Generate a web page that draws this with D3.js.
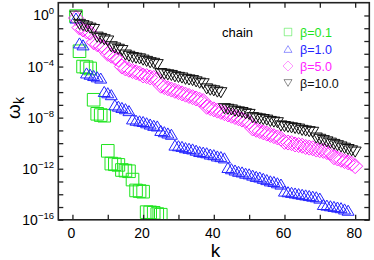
<!DOCTYPE html>
<html><head><meta charset="utf-8">
<script src="https://cdn.jsdelivr.net/npm/d3@7"></script>
<style>body{margin:0;background:#fff}svg{display:block}text{font-family:"Liberation Sans",Arial,sans-serif}</style>
</head><body><div id="chart"></div>
<script>
// log10(omega_k), index i -> k = i+1
const seriesNames = ["β=0.1", "β=1.0", "β=5.0", "β=10.0"];
const logOmegaBeta01 = [-0.05,-2.8,-4.0,-4.05,-4.15,-6.6,-7.7,-7.8,-7.85,-10.6,-11.6,-11.65,-11.7,-12.1,-12.15,-12.2,-12.85,-13.7,-13.75,-13.8,-15.4,-15.42,-15.45,-15.55,-15.6];
const logOmegaBeta1 = [-0.2,-2.15,-2.3,-4.5,-4.6,-4.7,-4.8,-4.9,-5.95,-6.05,-6.2,-7.0,-7.1,-7.2,-7.3,-7.45,-8.1,-8.2,-8.25,-8.3,-8.4,-8.5,-8.6,-8.65,-9.0,-9.1,-9.2,-9.3,
 -10.15,-10.2,-10.25,-10.35,-10.4,-10.45,-10.55,-10.65,-10.7,-10.75,-10.85,-10.9,-11.0,-11.05,-11.15,
 -11.9,-12.0,-12.1,-12.2,-12.25,-12.35,-12.4,-12.5,-12.6,-12.65,-12.75,-12.85,-12.95,-13.0,-13.1,-13.2,
 -13.75,-13.8,-13.85,-13.9,-13.95,-14.0,-14.05,-14.1,-14.15,-14.2,-14.3,
 -14.8,-14.85,-14.9,-14.95,-15.0,-15.05,-15.15,-15.25];
const logOmegaBeta5 = [-0.2,-0.95,-1.1,-1.25,-1.35,-2.1,-2.25,-2.4,-2.5,-3.0,-3.15,-3.3,-3.45,-4.0,-4.15,-4.25,-4.35,-4.45,-4.55,-4.7,-4.75,-4.85,-4.9,-5.0,
 -5.5,-5.6,-5.7,-5.8,-5.9,-6.0,-6.1,-6.2,-6.3,-6.4,-6.5,-6.6,-6.7,
 -7.15,-7.25,-7.35,-7.45,-7.55,-7.65,-7.75,-7.85,-7.95,-8.05,-8.15,-8.25,-8.35,
 -8.85,-8.95,-9.05,-9.15,-9.25,-9.35,-9.45,-9.55,-9.65,
 -9.9,-9.95,-10.0,-10.1,-10.15,-10.2,-10.3,-10.35,-10.4,-10.5,-10.55,-10.6,-10.7,-10.75,
 -11.1,-11.2,-11.3,-11.4,-11.5,-11.6,-11.8];
const logOmegaBeta10 = [-0.05,-0.7,-0.8,-0.9,-1.0,-1.1,-1.7,-1.8,-1.9,-2.0,-2.45,-2.55,-2.65,-2.75,-3.1,-3.2,-3.3,-3.35,-3.4,-3.5,-3.6,-3.7,-3.75,-3.85,
 -4.55,-4.6,-4.65,-4.7,-4.8,-4.85,-4.9,-5.0,-5.05,-5.1,-5.2,-5.3,-5.35,
 -5.75,-5.85,-5.9,-6.0,-6.05,
 -7.3,-7.35,-7.4,-7.5,-7.55,-7.6,-7.7,-7.75,
 -8.0,-8.05,-8.1,-8.15,-8.2,-8.3,-8.35,-8.4,
 -8.65,-8.7,-8.75,-8.8,-8.85,-8.9,-9.0,-9.05,-9.1,-9.15,
 -9.6,-9.7,-9.8,-9.9,-10.0,-10.1,-10.2,-10.3,-10.4,-10.5,-10.6,-10.7];
const xTickValues = [0,10,20,30,40,50,60,70,80];
const xTickLabels = [0,20,40,60,80];
const yTickExponents = [-16,-15,-14,-13,-12,-11,-10,-9,-8,-7,-6,-5,-4,-3,-2,-1,0];
const yLabelExponents = [0,-4,-8,-12,-16];
const annotation = "chain";

const W = 374, H = 260;
const L = 58.3, R = 369.3, T = 2.7, B = 219.8;
const x = d3.scaleLinear().domain([-4, 84]).range([L, R]);
const y = d3.scaleLog().domain([1e-16, 1e1]).range([B, T]);

const svg = d3.select("#chart").append("svg").attr("width", W).attr("height", H);
svg.append("defs").append("clipPath").attr("id", "clip")
  .append("rect").attr("x", L).attr("y", T).attr("width", R - L).attr("height", B - T);

const shapes = {
  square: s => { const h = s / 2; return `M${-h},${-h}H${h}V${h}H${-h}Z`; },
  up: s => { const h = s / 2, v = s * 0.42; return `M0,${-v}L${h},${v}L${-h},${v}Z`; },
  diamond: s => { const h = s / 2; return `M0,${-h}L${h},0L0,${h}L${-h},0Z`; },
  down: s => { const h = s / 2, v = s * 0.42; return `M0,${v}L${h},${-v}L${-h},${-v}Z`; }
};
const series = [
  {name: seriesNames[0], vals: logOmegaBeta01, color: "#1ee41e", shape: "square", size: 12.6, lsize: 7.5},
  {name: seriesNames[1], vals: logOmegaBeta1, color: "#2424ff", shape: "up", size: 12, lsize: 8},
  {name: seriesNames[2], vals: logOmegaBeta5, color: "#ff22ff", shape: "diamond", size: 15, lsize: 10},
  {name: seriesNames[3], vals: logOmegaBeta10, color: "#111111", shape: "down", size: 12, lsize: 8}
];

const plot = svg.append("g").attr("clip-path", "url(#clip)");
series.forEach(s => {
  plot.append("g").selectAll("path").data(s.vals).join("path")
    .attr("transform", (v, i) => `translate(${x(i + 1)},${y(Math.pow(10, v))})`)
    .attr("d", shapes[s.shape](s.size))
    .attr("fill", "none").attr("stroke", s.color).attr("stroke-width", 1);
});

// frame
svg.append("rect").attr("x", L).attr("y", T).attr("width", R - L).attr("height", B - T)
  .attr("fill", "none").attr("stroke", "#222").attr("stroke-width", 1.6);

const axisStyle = g => { g.select(".domain").remove(); g.selectAll("line").attr("stroke", "#222").attr("stroke-width", 1.3); };
svg.append("g").attr("transform", `translate(0,${B})`)
  .call(d3.axisBottom(x).tickValues(xTickValues).tickSize(-5).tickPadding(8)
    .tickFormat(d => xTickLabels.includes(d) ? d : ""))
  .call(axisStyle)
  .call(g => g.selectAll("text").attr("font-size", 14).attr("fill", "#000").attr("dx", -1.5));
svg.append("g").attr("transform", `translate(0,${T})`)
  .call(d3.axisTop(x).tickValues(xTickValues).tickSize(-5).tickFormat(""))
  .call(axisStyle);
const yTicks = yTickExponents.map(e => Math.pow(10, e));
svg.append("g").attr("transform", `translate(${L},0)`)
  .call(d3.axisLeft(y).tickValues(yTicks).tickSize(-5).tickFormat(""))
  .call(axisStyle);
svg.append("g").attr("transform", `translate(${R},0)`)
  .call(d3.axisRight(y).tickValues(yTicks).tickSize(-5).tickFormat(""))
  .call(axisStyle);

yLabelExponents.forEach(e => {
  const t = svg.append("text").attr("x", 54).attr("y", y(Math.pow(10, e)) + 5)
    .attr("text-anchor", "end").attr("font-size", 14).attr("fill", "#000");
  t.append("tspan").text("10");
  t.append("tspan").attr("dy", -6).attr("font-size", 9.5).text(e === 0 ? "0" : "−" + (-e));
});

// axis titles
const yl = svg.append("text").attr("transform", "translate(20,108) rotate(-90)")
  .attr("text-anchor", "middle").attr("font-size", 19).attr("fill", "#000");
yl.append("tspan").text("ω");
yl.append("tspan").attr("dy", 4).attr("font-size", 14).text("k");
svg.append("text").attr("x", x(40.5)).attr("y", 257).attr("text-anchor", "middle")
  .attr("font-size", 19).attr("fill", "#000").text("k");

// annotation + legend
svg.append("text").attr("x", 222).attr("y", 37).attr("font-size", 13).attr("fill", "#000").text(annotation);
series.forEach((s, i) => {
  const cy = 32 + i * 17;
  svg.append("path").attr("transform", `translate(288,${cy})`).attr("d", shapes[s.shape](s.lsize))
    .attr("fill", "none").attr("stroke", s.color).attr("stroke-width", 0.8).attr("stroke-opacity", 0.6);
  svg.append("text").attr("x", 300).attr("y", cy + 5).attr("font-size", 12.5).attr("fill", s.color).text(s.name);
});
</script></body></html>
